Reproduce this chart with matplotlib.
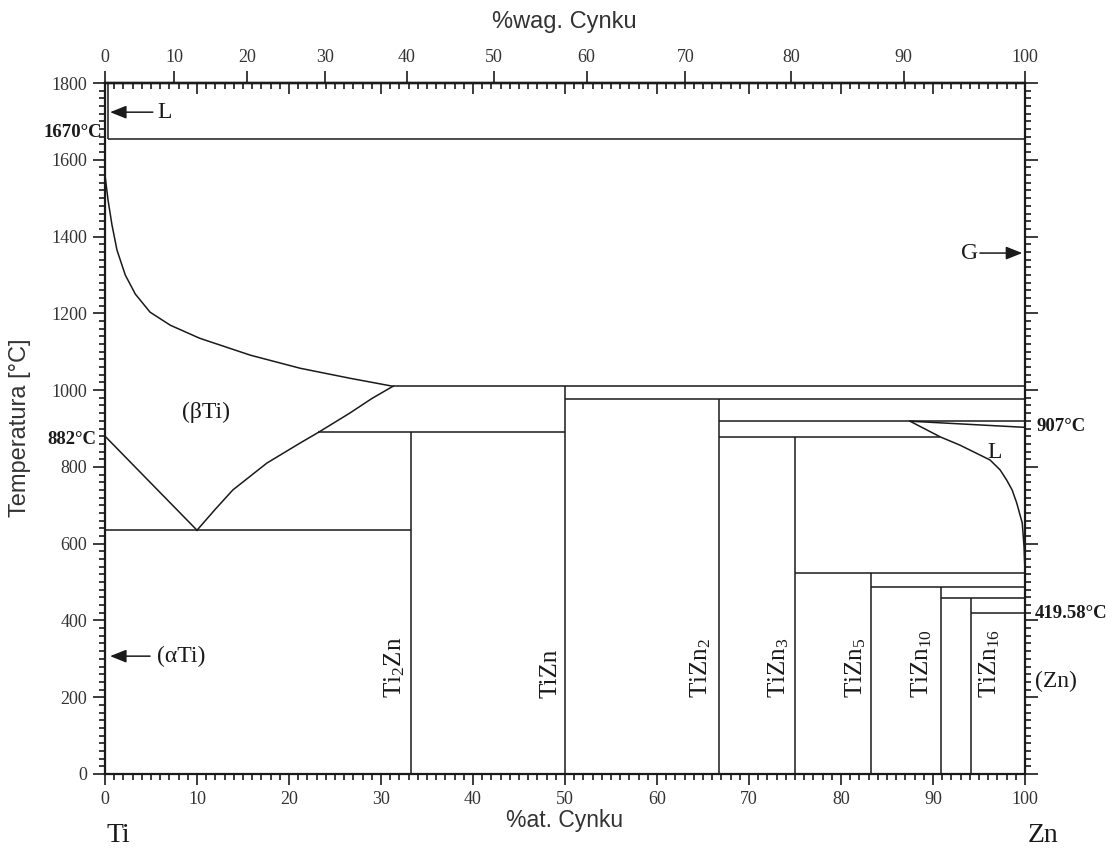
import numpy as np
import matplotlib
matplotlib.use('Agg')
import matplotlib.pyplot as plt
from matplotlib.ticker import MultipleLocator, NullLocator

# ---------------- data ----------------
at_ticks = list(range(0, 101, 10))
wt_ticks = list(range(0, 101, 10))
t_ticks = list(range(0, 1801, 200))

M_ZN = 65.38
M_TI = 47.867

# beta-Ti boundary from Ti side down to 1010 C
beta_upper_x = [0, 0.33, 0.76, 1.3, 2.2, 3.3, 4.9, 7.1, 10.3, 15.8, 21.2, 26.6, 31.3]
beta_upper_T = [1560, 1495, 1430, 1365, 1300, 1250, 1203, 1169, 1135, 1091, 1057, 1031, 1010]

# beta / (beta + Ti2Zn) boundary from eutectoid up to 1010 C
beta_lower_x = [10, 12, 13.9, 17.6, 21.2, 23.2, 26.6, 29, 31.3]
beta_lower_T = [635, 690, 740, 810, 862, 890, 940, 978, 1010]

# alpha/beta transus (straight)
alpha_x = [0, 10]
alpha_T = [880, 635]

# Zn-side liquidus
zn_liq_x = [87.5, 90.8, 92.9, 96.2, 97.3, 98.0, 98.6, 99.1, 99.7, 99.9, 100]
zn_liq_T = [919, 878, 857, 818, 792, 766, 740, 706, 654, 591, 526]
zn_top_x = [87.5, 100]
zn_top_T = [919, 903]

# horizontal invariant lines: temperature, x from, x to
h_T = [1655, 1010, 977, 919, 890, 878, 635, 523, 487, 458, 419]
h_x0 = [0.35, 31.3, 50, 66.7, 23.2, 66.7, 0, 75, 83.3, 90.9, 94.1]
h_x1 = [100, 100, 100, 100, 50, 90.8, 33.3, 100, 100, 100, 100]

# vertical lines: composition, T from, T to
v_x = [0.35, 33.3, 50, 66.7, 75, 83.3, 90.9, 94.1]
v_T0 = [1655, 0, 0, 0, 0, 0, 0, 0]
v_T1 = [1800, 890, 1010, 977, 878, 523, 487, 458]

# compound labels
comp_names = ['Ti$_2$Zn', 'TiZn', 'TiZn$_2$', 'TiZn$_3$', 'TiZn$_5$', 'TiZn$_{10}$', 'TiZn$_{16}$']
comp_label_x = [31.5, 48.4, 64.7, 73.2, 81.6, 88.8, 96.2]

# ---------------- style ----------------
plt.rcParams['font.family'] = ['Liberation Serif', 'DejaVu Serif']
plt.rcParams['mathtext.default'] = 'regular'
SANS = ['Liberation Sans', 'DejaVu Sans']
LC = '#1a1a1a'
TC = '#333333'

fig = plt.figure(figsize=(11.19, 8.48), dpi=100)
ax = fig.add_axes([105 / 1119, 74 / 848, 920 / 1119, 691 / 848])
ax.set_xlim(0, 100)
ax.set_ylim(0, 1800)

lw = 1.1
ax.plot(beta_upper_x, beta_upper_T, color=LC, lw=lw)
ax.plot(beta_lower_x, beta_lower_T, color=LC, lw=lw)
ax.plot(alpha_x, alpha_T, color=LC, lw=lw)
ax.plot(zn_liq_x, zn_liq_T, color=LC, lw=lw)
ax.plot(zn_top_x, zn_top_T, color=LC, lw=lw)
ax.hlines(h_T, h_x0, h_x1, color=LC, lw=lw)
ax.vlines(v_x, v_T0, v_T1, color=LC, lw=lw)

for sp in ax.spines.values():
    sp.set_linewidth(1.6)
    sp.set_color(LC)

# main axis ticks
ax.set_xticks(at_ticks)
ax.xaxis.set_minor_locator(MultipleLocator(1))
ax.set_yticks(t_ticks)
ax.yaxis.set_minor_locator(MultipleLocator(20))
ax.tick_params(axis='x', which='major', direction='out', length=8, width=1.2,
               top=False, bottom=True, labelsize=13, labelcolor=TC, pad=4, color=LC)
ax.tick_params(axis='x', which='minor', direction='out', length=4, width=1.2,
               top=False, bottom=True, color=LC)
ax.tick_params(axis='y', which='major', direction='out', length=9, width=1.2,
               left=True, right=True, labelleft=True, labelright=False,
               labelsize=13, labelcolor=TC, pad=4, color=LC)
ax.tick_params(axis='y', which='minor', direction='out', length=4, width=1.2,
               left=True, right=True, color=LC)

# top: weight percent (outward) and atomic percent (inward)
def at2wt(a):
    a = np.clip(np.asarray(a, dtype=float), 0, 100)
    return 100 * a * M_ZN / (a * M_ZN + (100 - a) * M_TI)

def wt2at(w):
    w = np.clip(np.asarray(w, dtype=float), 0, 100)
    return 100 * (w / M_ZN) / ((w / M_ZN) + (100 - w) / M_TI)

sec_at = ax.secondary_xaxis('top')
sec_at.set_xticks(at_ticks)
sec_at.xaxis.set_minor_locator(MultipleLocator(1))
sec_at.tick_params(which='major', direction='in', length=8, width=1.2, labeltop=False, color=LC)
sec_at.tick_params(which='minor', direction='in', length=4, width=1.2, color=LC)
sec_at.spines['top'].set_linewidth(1.6)

sec_wt = ax.secondary_xaxis('top', functions=(at2wt, wt2at))
sec_wt.set_xticks(wt_ticks)
sec_wt.xaxis.set_minor_locator(NullLocator())
sec_wt.tick_params(which='major', direction='out', length=9, width=1.2,
                   labelsize=13, labelcolor=TC, pad=3.5, color=LC)
sec_wt.spines['top'].set_linewidth(1.6)

# axis titles
fig.text(20 / 1119, 1 - 428 / 848, 'Temperatura [°C]', rotation=90, ha='center', va='center',
         fontsize=17, color=TC, family=SANS)
fig.text(565 / 1119, 1 - 821 / 848, '%at. Cynku', ha='center', va='center',
         fontsize=16.5, color=TC, family=SANS)
fig.text(564 / 1119, 1 - 22 / 848, '%wag. Cynku', ha='center', va='center',
         fontsize=17, color=TC, family=SANS)
fig.text(118 / 1119, 1 - 835 / 848, 'Ti', ha='center', va='center', fontsize=20, color=LC)
fig.text(1043 / 1119, 1 - 835 / 848, 'Zn', ha='center', va='center', fontsize=20, color=LC)

# bold temperature labels
ax.text(-0.3, 1672, '1670°C', ha='right', va='center', fontsize=13.5, weight='bold', color=LC, clip_on=False)
ax.text(-0.9, 872, '882°C', ha='right', va='center', fontsize=13.5, weight='bold', color=LC, clip_on=False)
ax.text(101.3, 904, '907°C', ha='left', va='center', fontsize=13.5, weight='bold', color=LC, clip_on=False)
ax.text(101.1, 419, '419.58°C', ha='left', va='center', fontsize=13.5, weight='bold', color=LC, clip_on=False)
ax.text(101.1, 240, '(Zn)', ha='left', va='center', fontsize=17, color=LC, clip_on=False)

# phase labels
ax.text(11.0, 943, '(βTi)', ha='center', va='center', fontsize=17, color=LC)
ax.text(96.7, 838, 'L', ha='center', va='center', fontsize=17, color=LC)

arrow_kw = dict(arrowstyle='-|>,head_length=0.55,head_width=0.22', color=LC, lw=1.1,
                mutation_scale=18, shrinkA=0, shrinkB=0)
ax.annotate('', xy=(0.55, 1724), xytext=(5.2, 1724), arrowprops=arrow_kw)
ax.text(5.7, 1724, 'L', ha='left', va='center', fontsize=17, color=LC)
ax.annotate('', xy=(0.55, 307), xytext=(4.9, 307), arrowprops=arrow_kw)
ax.text(5.6, 307, '(αTi)', ha='left', va='center', fontsize=17, color=LC)
ax.annotate('', xy=(99.7, 1357), xytext=(95.1, 1357), arrowprops=arrow_kw)
ax.text(94.9, 1357, 'G', ha='right', va='center', fontsize=17, color=LC)

for name, xpos in zip(comp_names, comp_label_x):
    ax.text(xpos, 198, name, rotation=90, ha='center', va='bottom', fontsize=18, color=LC)

fig.savefig('out.png', dpi=100)
